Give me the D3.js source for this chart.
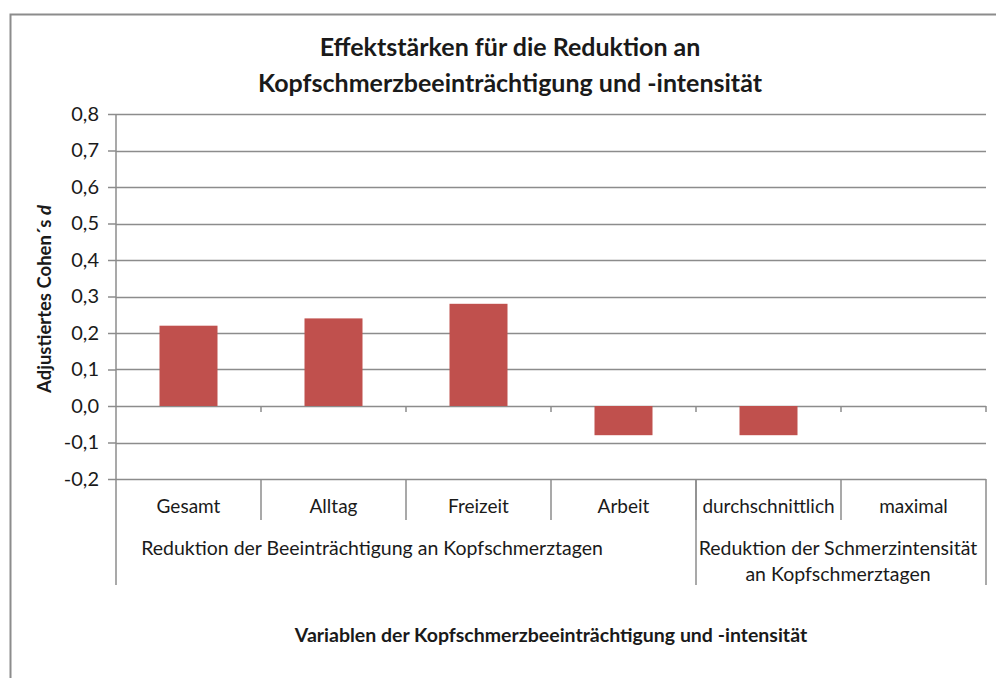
<!DOCTYPE html>
<html>
<head>
<meta charset="utf-8">
<script src="https://cdn.jsdelivr.net/npm/d3@7"></script>
<style>
  body { margin: 0; background: #fff; }
  text { font-family: Lato, "Open Sans", sans-serif; fill: #1a1a1a; }
</style>
</head>
<body>
<div id="chart"></div>
<script>
// data
var categories = ["Gesamt", "Alltag", "Freizeit", "Arbeit", "durchschnittlich", "maximal"];
var values = [0.22, 0.24, 0.28, -0.08, -0.08, 0];
var groupLabels = [["Reduktion der Beeinträchtigung an Kopfschmerztagen"], ["Reduktion der Schmerzintensität", "an Kopfschmerztagen"]];
var groupSpans = [4, 2];
var yTickValues = [-0.2, -0.1, 0, 0.1, 0.2, 0.3, 0.4, 0.5, 0.6, 0.7, 0.8];
var titleLines = ["Effektstärken für die Reduktion an", "Kopfschmerzbeeinträchtigung und -intensität"];

var width = 996, height = 678;
var plotLeft = 116, plotRight = 986, plotTop = 114, plotBottom = 479;
var lineColor = "#8c8c8c";

var svg = d3.select("#chart").append("svg")
  .attr("width", width)
  .attr("height", height);

// outer frame (runs off the right and bottom edge)
svg.append("rect")
  .attr("x", 10.5).attr("y", 14.5)
  .attr("width", 1000).attr("height", 700)
  .attr("fill", "none").attr("stroke", lineColor).attr("stroke-width", 2);

var x = d3.scaleBand().domain(categories).range([plotLeft, plotRight]).padding(0);
var y = d3.scaleLinear().domain([-0.2, 0.8]).range([plotBottom, plotTop]);

var locale = d3.formatLocale({decimal: ",", thousands: ".", grouping: [3], currency: ["", "€"], minus: "-"});
var fmt = locale.format(".1f");

// gridlines
svg.append("g").selectAll("line")
  .data(yTickValues)
  .enter().append("line")
  .attr("x1", plotLeft).attr("x2", plotRight)
  .attr("y1", function(d) { return Math.round(y(d)) + 0.5; })
  .attr("y2", function(d) { return Math.round(y(d)) + 0.5; })
  .attr("stroke", lineColor).attr("stroke-width", 1.5);

// y axis
var yAxis = svg.append("g")
  .attr("transform", "translate(" + plotLeft + ",0)")
  .call(d3.axisLeft(y).tickValues(yTickValues).tickSize(8).tickPadding(9).tickFormat(fmt));
yAxis.select(".domain").remove();
yAxis.selectAll(".tick line").attr("stroke", lineColor).attr("stroke-width", 1.5);
yAxis.selectAll(".tick text").style("font-size", "20px").style("font-family", "Lato, sans-serif").attr("fill", "#1a1a1a");

// left axis line continues down through the category area
svg.append("line")
  .attr("x1", plotLeft).attr("x2", plotLeft)
  .attr("y1", plotTop).attr("y2", 585)
  .attr("stroke", lineColor).attr("stroke-width", 1.5);

// bars
var barW = x.bandwidth() * 0.4;
svg.append("g").selectAll("rect")
  .data(values)
  .enter().append("rect")
  .attr("x", function(d, i) { return x(categories[i]) + (x.bandwidth() - barW) / 2; })
  .attr("y", function(d) { return y(Math.max(0, d)); })
  .attr("width", barW)
  .attr("height", function(d) { return Math.abs(y(d) - y(0)); })
  .attr("fill", "#C0504D");

// zero line tick marks
svg.append("g").selectAll("line")
  .data(categories)
  .enter().append("line")
  .attr("x1", function(d) { return x(d) + x.bandwidth(); })
  .attr("x2", function(d) { return x(d) + x.bandwidth(); })
  .attr("y1", y(0)).attr("y2", y(0) + 6)
  .attr("stroke", lineColor).attr("stroke-width", 1.5);

// category separators
svg.append("g").selectAll("line")
  .data(categories.slice(0, -1))
  .enter().append("line")
  .attr("x1", function(d) { return x(d) + x.bandwidth(); })
  .attr("x2", function(d) { return x(d) + x.bandwidth(); })
  .attr("y1", plotBottom).attr("y2", 520)
  .attr("stroke", lineColor).attr("stroke-width", 1.5);

// category labels
svg.append("g").selectAll("text")
  .data(categories)
  .enter().append("text")
  .attr("x", function(d) { return x(d) + x.bandwidth() / 2; })
  .attr("y", 513)
  .attr("text-anchor", "middle")
  .style("font-size", "19px")
  .text(function(d) { return d; });

// groups (the first group's label sits a bit left of centre, as in the original)
var groupShift = [-34, -3];
var start = 0;
groupSpans.forEach(function(span, gi) {
  var x0 = x(categories[start]);
  var x1 = x(categories[start + span - 1]) + x.bandwidth();
  svg.append("line")
    .attr("x1", x1).attr("x2", x1)
    .attr("y1", plotBottom).attr("y2", 585)
    .attr("stroke", lineColor).attr("stroke-width", 1.5);
  groupLabels[gi].forEach(function(t, li) {
    svg.append("text")
      .attr("x", (x0 + x1) / 2 + groupShift[gi])
      .attr("y", 555 + li * 26)
      .attr("text-anchor", "middle")
      .style("font-size", "19.5px")
      .text(t);
  });
  start += span;
});

// title
titleLines.forEach(function(t, i) {
  svg.append("text")
    .attr("x", 510).attr("y", 56 + i * 36)
    .attr("text-anchor", "middle")
    .style("font-size", "25px").style("font-weight", "bold")
    .text(t);
});

// axis titles
var yt = svg.append("text")
  .attr("transform", "translate(51,299) rotate(-90)")
  .attr("text-anchor", "middle")
  .style("font-size", "18.5px").style("font-weight", "bold");
yt.append("tspan").text("Adjustiertes Cohen´s ");
yt.append("tspan").style("font-style", "italic").text("d");

svg.append("text")
  .attr("x", 551).attr("y", 642)
  .attr("text-anchor", "middle")
  .style("font-size", "19.5px").style("font-weight", "bold")
  .text("Variablen der Kopfschmerzbeeinträchtigung und -intensität");
</script>
</body>
</html>
